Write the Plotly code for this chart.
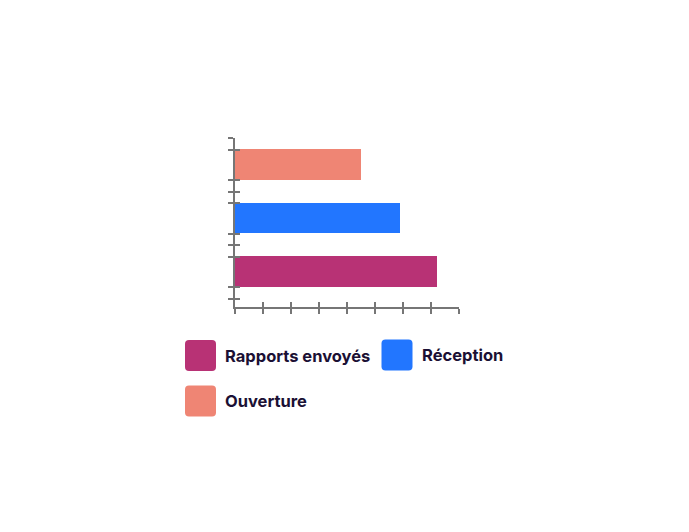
import plotly.graph_objects as go

# data (bottom to top)
categories = ["Rapports envoyés", "Réception", "Ouverture"]
values = [72, 59, 45]
colors = ["#B83275", "#2276FF", "#EF8574"]

# page has an 8px body margin, so the figure is a bit smaller than the window
OFF = 8
W, H = 689 - 2 * OFF, 532 - 2 * OFF
bar_width = 0.57
x_max = 80
x_step = 10
axis_color = "#767676"
text_color = "#1B1034"


def px(x):
    return (x - OFF) / W


def py(y):
    return 1 - (y - OFF) / H


fig = go.Figure()

for i, (name, val, col) in enumerate(zip(categories, values, colors)):
    fig.add_trace(go.Bar(
        x=[val], y=[i], name=name, orientation="h",
        marker=dict(color=col, line=dict(width=0)),
        width=bar_width, showlegend=False,
    ))

# dummy trace so the overlay axes (inside ticks) get drawn
fig.add_trace(go.Scatter(x=[None], y=[None], xaxis="x2", yaxis="y2",
                         showlegend=False, hoverinfo="skip"))

# y ticks: category boundaries + bar edges
ytick_vals = []
for i in range(len(categories)):
    ytick_vals += [i - 0.5, i - bar_width / 2, i + bar_width / 2]
ytick_vals.append(len(categories) - 0.5)

x_dom = [px(234.7), px(458.7)]
y_dom = [py(306.7), py(138.3)]
y_rng = [-0.65, len(categories) - 0.5]

common_x = dict(domain=x_dom, range=[0, x_max], tickmode="linear", tick0=0, dtick=x_step,
                showgrid=False, zeroline=False, showticklabels=False,
                ticklen=5, tickwidth=2, tickcolor=axis_color)
common_y = dict(domain=y_dom, range=y_rng, tickmode="array", tickvals=ytick_vals,
                showgrid=False, zeroline=False, showticklabels=False,
                ticklen=5, tickwidth=2, tickcolor=axis_color)

fig.update_layout(
    width=W, height=H,
    margin=dict(l=0, r=0, t=0, b=0, pad=0),
    plot_bgcolor="white", paper_bgcolor="white",
    showlegend=False,
    bargap=0,
    xaxis=dict(**common_x, ticks="outside", showline=True, linecolor=axis_color,
               linewidth=2, anchor="y"),
    yaxis=dict(**common_y, ticks="outside", showline=True, linecolor=axis_color,
               linewidth=2, anchor="x"),
    xaxis2=dict(**common_x, ticks="inside", showline=False, overlaying="x", anchor="y2"),
    yaxis2=dict(**common_y, ticks="inside", showline=False, overlaying="y", anchor="x2"),
)

# custom legend: big rounded swatches + bold labels
legend_slots = [(185, 340), (381.5, 339.5), (185, 385.5)]
sw = 31
r = 4
for (x0, y0), name, col in zip(legend_slots, categories, colors):
    x1, y1 = x0 + sw, y0 + sw
    path = (f"M {px(x0 + r)} {py(y0)} L {px(x1 - r)} {py(y0)} "
            f"Q {px(x1)} {py(y0)} {px(x1)} {py(y0 + r)} "
            f"L {px(x1)} {py(y1 - r)} Q {px(x1)} {py(y1)} {px(x1 - r)} {py(y1)} "
            f"L {px(x0 + r)} {py(y1)} Q {px(x0)} {py(y1)} {px(x0)} {py(y1 - r)} "
            f"L {px(x0)} {py(y0 + r)} Q {px(x0)} {py(y0)} {px(x0 + r)} {py(y0)} Z")
    fig.add_shape(type="path", path=path, xref="paper", yref="paper",
                  fillcolor=col, line=dict(width=0))
    fig.add_annotation(text=name, xref="paper", yref="paper",
                       x=px(x1 + 7), y=py(y0 + sw / 2), xanchor="left", yanchor="middle",
                       showarrow=False,
                       font=dict(family="Inter", size=16.5, color=text_color, weight=700))

fig.write_html("out.html")
